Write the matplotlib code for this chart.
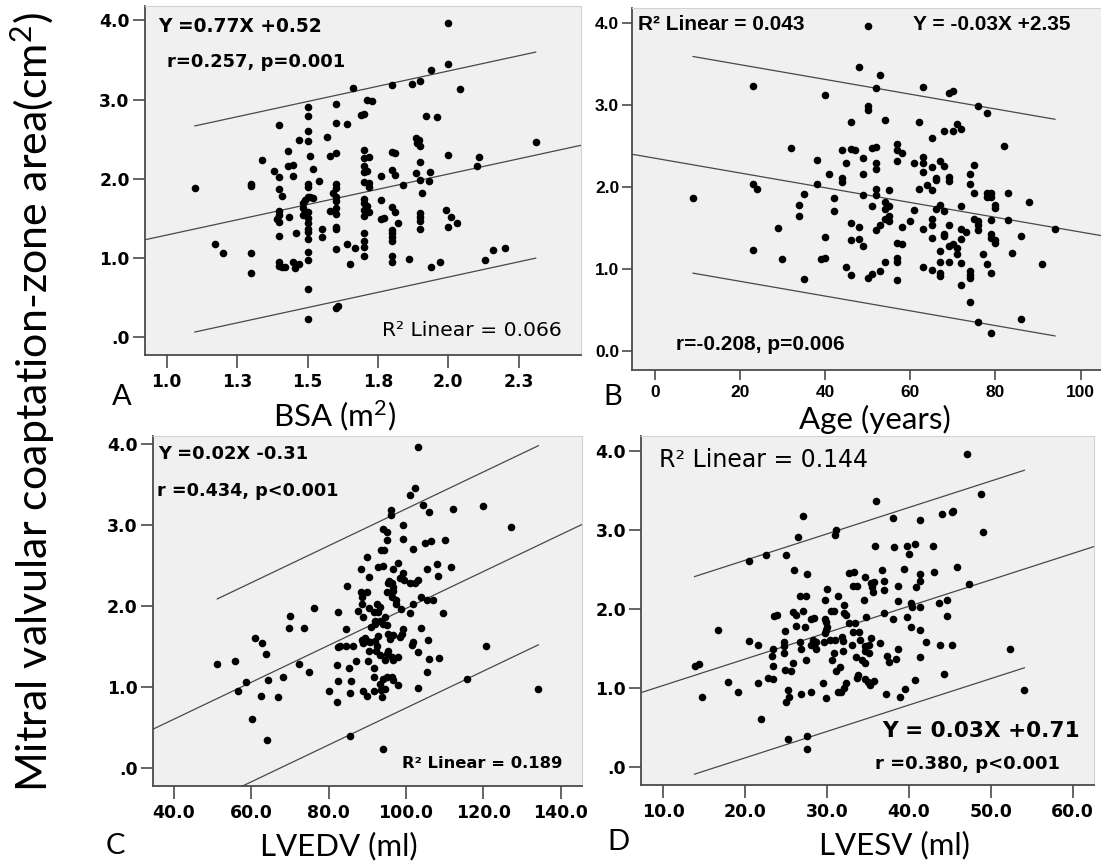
import matplotlib
matplotlib.use("Agg")
import matplotlib.pyplot as plt
import numpy as np

plt.rcParams["mathtext.fontset"] = "custom"
plt.rcParams["mathtext.rm"] = "Lato"
plt.rcParams["mathtext.it"] = "Lato:italic"
plt.rcParams["mathtext.bf"] = "Lato:bold"

# ---------------- data ----------------
# Panel A: body surface area vs coaptation-zone area
bsa = [2.00, 2.00, 1.94, 1.90, 1.87, 1.80, 1.66, 2.04, 1.71, 1.73,
       1.50, 1.60, 1.50, 1.69, 1.70, 1.92, 1.96, 1.60, 1.64, 1.40,
       1.50, 1.57, 1.47, 1.50, 1.885, 1.895, 1.89, 1.90, 2.31, 1.43,
       1.70, 1.80, 1.81, 1.51, 1.58, 1.60, 1.70, 1.72, 1.90, 2.00,
       2.11, 2.10, 1.34, 1.43, 1.45, 1.70, 1.38, 1.52, 1.70, 1.71,
       1.80, 1.81, 1.76, 1.45, 1.40, 1.885, 1.90, 1.935, 1.93, 1.54,
       1.30, 1.30, 1.10, 1.50, 1.50, 1.70, 1.72, 1.72, 1.60, 1.60,
       1.84, 1.40, 1.41, 1.59, 1.60, 1.905, 1.50, 1.51, 1.52, 1.49,
       1.485, 1.60, 1.70, 1.70, 1.71, 1.76, 1.80, 1.81, 1.99, 2.01,
       2.03, 2.00, 1.90, 1.90, 1.90, 1.90, 1.40, 1.40, 1.39, 1.40,
       1.435, 1.485, 1.50, 1.485, 1.50, 1.50, 1.50, 1.50, 1.50, 1.60,
       1.58, 1.60, 1.60, 1.60, 1.60, 1.70, 1.72, 1.70, 1.77, 1.76,
       1.55, 1.55, 1.46, 1.40, 1.70, 1.70, 1.70, 1.70, 1.80, 1.80,
       1.80, 1.80, 1.82, 1.17, 1.20, 1.30, 1.30, 1.64, 1.67, 1.50,
       1.50, 1.40, 1.41, 1.42, 1.40, 1.45, 1.455, 1.47, 1.65, 1.80,
       1.80, 1.86, 1.94, 1.97, 2.13, 2.16, 2.20, 1.50, 1.60, 1.61,
       1.50]
area_bsa = [3.96, 3.45, 3.37, 3.23, 3.20, 3.18, 3.15, 3.13, 3.00, 2.98,
            2.91, 2.94, 2.79, 2.80, 2.82, 2.79, 2.78, 2.70, 2.69, 2.68,
            2.60, 2.53, 2.49, 2.48, 2.51, 2.49, 2.45, 2.42, 2.47, 2.35,
            2.36, 2.34, 2.32, 2.29, 2.29, 2.32, 2.26, 2.27, 2.21, 2.30,
            2.28, 2.16, 2.24, 2.16, 2.17, 2.16, 2.10, 2.12, 2.09, 2.10,
            2.11, 2.05, 2.03, 2.03, 2.02, 2.07, 1.98, 2.08, 1.97, 1.97,
            1.93, 1.91, 1.88, 1.93, 1.90, 1.96, 1.95, 1.90, 1.93, 1.89,
            1.92, 1.87, 1.78, 1.82, 1.77, 1.82, 1.77, 1.77, 1.76, 1.73,
            1.69, 1.72, 1.74, 1.70, 1.66, 1.73, 1.65, 1.58, 1.61, 1.52,
            1.44, 1.39, 1.57, 1.52, 1.47, 1.37, 1.59, 1.54, 1.49, 1.46,
            1.52, 1.63, 1.58, 1.54, 1.50, 1.44, 1.37, 1.33, 1.24, 1.63,
            1.60, 1.56, 1.39, 1.37, 1.11, 1.61, 1.58, 1.53, 1.51, 1.49,
            1.37, 1.27, 1.32, 1.28, 1.31, 1.22, 1.14, 1.03, 1.36, 1.31,
            1.27, 1.21, 1.44, 1.18, 1.07, 1.06, 0.81, 1.18, 1.13, 1.08,
            0.97, 0.95, 0.89, 0.89, 0.90, 0.95, 0.88, 0.93, 0.92, 1.03,
            0.95, 0.99, 0.89, 0.95, 0.98, 1.10, 1.13, 0.61, 0.37, 0.39,
            0.23]

# Panel B: age vs coaptation-zone area
age = [50, 23, 48, 53, 52, 63, 69, 70, 40, 50,
       50, 76, 78, 46, 54, 62, 71, 68, 70, 72,
       65, 32, 44, 46, 47, 51, 52, 57, 57, 58,
       82, 38, 49, 45, 52, 52, 57, 61, 63, 63,
       63, 65, 67, 68, 75, 41, 44, 44, 49, 66,
       66, 69, 69, 74, 74, 23, 24, 38, 64, 65,
       62, 52, 52, 55, 35, 49, 75, 78, 79, 78,
       79, 83, 88, 9, 42, 34, 34, 54, 54, 55,
       51, 61, 67, 66, 68, 72, 80, 80, 42, 54,
       55, 55, 65, 65, 60, 75, 76, 76, 76, 79,
       83, 46, 53, 52, 58, 48, 69, 63, 72, 73,
       29, 94, 68, 68, 79, 79, 80, 80, 86, 40,
       65, 46, 48, 57, 58, 69, 70, 71, 72, 49,
       67, 23, 84, 71, 77, 30, 39, 40, 57, 57,
       54, 67, 69, 72, 78, 91, 45, 63, 65, 67,
       67, 74, 74, 74, 79, 46, 51, 50, 53, 35,
       57, 72, 74, 76, 86, 79]
area_age = [3.96, 3.23, 3.46, 3.36, 3.20, 3.22, 3.15, 3.17, 3.12, 2.98,
            2.94, 2.99, 2.90, 2.79, 2.81, 2.79, 2.77, 2.68, 2.68, 2.70,
            2.60, 2.47, 2.45, 2.46, 2.45, 2.48, 2.49, 2.52, 2.45, 2.41,
            2.50, 2.33, 2.35, 2.29, 2.29, 2.22, 2.32, 2.29, 2.37, 2.29,
            2.18, 2.24, 2.32, 2.26, 2.27, 2.16, 2.11, 2.06, 2.16, 2.11,
            2.08, 2.12, 2.07, 2.16, 2.04, 2.03, 1.97, 2.03, 2.02, 1.96,
            1.97, 1.98, 1.90, 1.96, 1.91, 1.90, 1.92, 1.92, 1.93, 1.88,
            1.88, 1.92, 1.81, 1.87, 1.87, 1.78, 1.64, 1.82, 1.73, 1.77,
            1.77, 1.72, 1.78, 1.73, 1.71, 1.77, 1.78, 1.74, 1.71, 1.61,
            1.64, 1.58, 1.61, 1.53, 1.58, 1.61, 1.58, 1.53, 1.48, 1.60,
            1.60, 1.56, 1.53, 1.47, 1.51, 1.51, 1.53, 1.49, 1.49, 1.45,
            1.50, 1.49, 1.43, 1.40, 1.43, 1.38, 1.35, 1.32, 1.40, 1.39,
            1.38, 1.35, 1.36, 1.32, 1.31, 1.28, 1.31, 1.26, 1.36, 1.28,
            1.22, 1.23, 1.20, 1.18, 1.18, 1.12, 1.12, 1.13, 1.13, 1.09,
            1.09, 1.08, 1.08, 1.07, 1.06, 1.06, 1.03, 1.02, 0.99, 0.95,
            0.91, 0.97, 0.93, 0.89, 0.95, 0.93, 0.94, 0.89, 0.97, 0.88,
            0.86, 0.80, 0.60, 0.35, 0.39, 0.22]

# Panel C: LV end-diastolic volume vs coaptation-zone area
lvedv = [103.0, 102.3, 100.9, 104.5, 112.2, 119.8, 96.0, 96.0, 106.0, 127.2,
         99.1, 94.0, 95.0, 95.2, 99.1, 104.9, 106.5, 110.1, 101.9, 93.5,
         94.3, 89.8, 98.0, 92.8, 94.1, 88.4, 96.7, 108.1, 111.6, 105.3,
         99.1, 90.3, 108.2, 95.7, 96.5, 95.4, 96.7, 98.4, 99.5, 101.0,
         102.3, 103.2, 84.8, 95.2, 96.7, 96.3, 88.4, 89.8, 88.5, 88.7,
         103.8, 105.3, 107.1, 97.4, 97.4, 101.9, 90.3, 92.4, 93.3, 92.7,
         98.7, 101.0, 109.5, 76.2, 70.0, 82.3, 87.7, 89.0, 91.6, 92.0,
         94.6, 93.3, 94.1, 95.0, 90.9, 92.1, 69.8, 73.7, 84.4, 99.1,
         103.8, 92.8, 95.4, 96.7, 95.9, 98.4, 98.9, 60.9, 62.8, 63.7,
         55.7, 51.2, 72.3, 75.0, 58.5, 56.6, 64.2, 68.3, 62.5, 67.0,
         60.1, 64.1, 82.5, 82.9, 84.4, 86.4, 88.5, 89.0, 89.4, 89.8,
         90.7, 90.3, 92.0, 92.4, 82.2, 85.3, 87.0, 90.1, 92.2, 93.3,
         95.0, 94.6, 95.4, 96.3, 96.7, 97.8, 101.9, 101.5, 103.2, 105.8,
         108.4, 106.0, 91.6, 91.6, 93.4, 94.1, 95.2, 93.5, 94.6, 96.5,
         96.7, 97.8, 105.3, 82.3, 85.7, 80.0, 85.6, 82.2, 89.0, 89.8,
         91.7, 93.7, 103.2, 115.7, 120.6, 134.2, 85.5, 94.1]
area_lvedv = [3.97, 3.46, 3.37, 3.25, 3.20, 3.23, 3.18, 3.13, 3.16, 2.98,
              3.00, 2.95, 2.92, 2.81, 2.83, 2.78, 2.80, 2.81, 2.71, 2.69,
              2.69, 2.61, 2.53, 2.48, 2.50, 2.46, 2.46, 2.52, 2.48, 2.46,
              2.41, 2.36, 2.37, 2.31, 2.28, 2.28, 2.24, 2.34, 2.32, 2.29,
              2.28, 2.32, 2.25, 2.17, 2.18, 2.11, 2.17, 2.17, 2.11, 2.03,
              2.11, 2.08, 2.08, 2.07, 2.02, 2.03, 1.97, 2.03, 1.99, 1.93,
              1.96, 1.91, 1.91, 1.97, 1.88, 1.92, 1.94, 1.87, 1.92, 1.82,
              1.87, 1.82, 1.78, 1.77, 1.74, 1.78, 1.73, 1.73, 1.71, 1.71,
              1.73, 1.63, 1.66, 1.64, 1.59, 1.62, 1.66, 1.60, 1.54, 1.41,
              1.32, 1.28, 1.28, 1.18, 1.06, 0.95, 1.08, 1.12, 0.89, 0.87,
              0.61, 0.35, 1.49, 1.50, 1.51, 1.51, 1.58, 1.54, 1.60, 1.57,
              1.56, 1.45, 1.57, 1.50, 1.27, 1.23, 1.32, 1.32, 1.45, 1.39,
              1.41, 1.33, 1.45, 1.37, 1.33, 1.37, 1.56, 1.52, 1.43, 1.58,
              1.36, 1.35, 1.23, 1.12, 1.04, 1.10, 1.12, 0.96, 0.98, 1.12,
              1.09, 1.03, 1.19, 1.07, 1.07, 0.95, 0.92, 0.81, 0.95, 0.89,
              0.95, 0.88, 0.99, 1.10, 1.50, 0.98, 0.39, 0.23]

# Panel D: LV end-systolic volume vs coaptation-zone area
lvesv = [47.1, 48.8, 36.0, 44.0, 45.2, 45.4, 27.1, 38.1, 41.3, 31.1,
         30.9, 49.1, 26.4, 20.4, 22.5, 25.0, 35.9, 38.2, 39.7, 40.7,
         42.9, 40.0, 26.0, 27.5, 32.7, 33.3, 36.7, 39.4, 45.9, 41.3,
         41.3, 43.0, 34.6, 35.4, 35.7, 35.5, 35.6, 37.0, 33.2, 33.6,
         38.6, 40.9, 47.3, 37.0, 30.0, 26.7, 27.4, 31.3, 29.7, 34.5,
         38.6, 40.3, 40.4, 41.3, 43.7, 44.7, 30.5, 30.8, 32.0, 32.0,
         32.3, 25.8, 26.2, 27.1, 23.5, 23.9, 28.0, 28.4, 29.7, 34.8,
         37.0, 38.1, 39.8, 44.6, 40.3, 41.3, 16.7, 24.9, 26.2, 27.3,
         29.8, 30.0, 29.9, 29.7, 32.7, 33.4, 33.1, 33.9, 35.3, 20.4,
         21.5, 24.7, 24.7, 26.7, 28.3, 28.7, 28.0, 29.6, 30.4, 30.9,
         31.8, 31.9, 34.0, 33.0, 34.6, 35.1, 36.5, 42.1, 45.2, 43.8,
         52.3, 23.4, 24.7, 26.8, 28.7, 30.8, 31.9, 34.6, 35.1, 38.6,
         37.3, 37.6, 38.4, 33.5, 41.4, 30.6, 27.4, 23.3, 34.3, 34.6,
         13.8, 14.4, 23.4, 24.9, 25.6, 25.8, 31.6, 31.1, 33.8, 33.6,
         34.6, 35.0, 35.7, 35.2, 44.3, 22.8, 23.4, 21.5, 17.9, 19.1,
         14.7, 29.5, 32.3, 32.0, 40.7, 25.2, 25.4, 25.0, 26.8, 28.0,
         29.8, 31.3, 31.7, 37.2, 38.9, 39.5, 54.1, 21.9, 25.2, 27.6,
         27.5]
area_lvesv = [3.96, 3.45, 3.37, 3.20, 3.23, 3.24, 3.18, 3.15, 3.13, 3.00,
              2.94, 2.98, 2.91, 2.61, 2.69, 2.68, 2.80, 2.78, 2.80, 2.82,
              2.80, 2.70, 2.49, 2.45, 2.46, 2.47, 2.50, 2.51, 2.53, 2.45,
              2.35, 2.47, 2.41, 2.33, 2.34, 2.28, 2.21, 2.36, 2.29, 2.29,
              2.29, 2.28, 2.32, 2.24, 2.26, 2.16, 2.16, 2.16, 2.12, 2.12,
              2.10, 2.08, 2.03, 2.03, 2.08, 2.11, 1.97, 1.98, 2.05, 1.95,
              1.92, 1.96, 1.93, 1.98, 1.91, 1.93, 1.88, 1.89, 1.87, 1.90,
              1.95, 1.87, 1.90, 1.91, 1.77, 1.73, 1.73, 1.72, 1.78, 1.77,
              1.84, 1.77, 1.73, 1.70, 1.82, 1.82, 1.71, 1.71, 1.63, 1.60,
              1.54, 1.58, 1.53, 1.58, 1.61, 1.58, 1.54, 1.58, 1.61, 1.61,
              1.65, 1.60, 1.61, 1.54, 1.53, 1.54, 1.57, 1.58, 1.54, 1.54,
              1.50, 1.50, 1.45, 1.49, 1.49, 1.45, 1.47, 1.47, 1.44, 1.49,
              1.41, 1.33, 1.37, 1.39, 1.39, 1.36, 1.36, 1.41, 1.36, 1.32,
              1.28, 1.31, 1.28, 1.23, 1.22, 1.32, 1.27, 1.21, 1.16, 1.13,
              1.12, 1.08, 1.09, 1.04, 1.18, 1.13, 1.12, 1.06, 1.08, 0.95,
              0.89, 1.07, 1.06, 1.00, 1.10, 0.97, 0.89, 0.82, 0.92, 0.95,
              0.88, 0.95, 0.95, 0.93, 0.89, 0.99, 0.97, 0.61, 0.35, 0.39,
              0.23]

# Regression lines: intercept, slope and half-width of the 95% individual band
fit_intercept = [0.52, 2.35, -0.31, 0.70]
fit_slope = [0.77, -0.009, 0.0228, 0.0334]
band_halfwidth = [1.30, 1.32, 1.23, 1.25]

# Tick values and labels
a_xticks = [1.0, 1.25, 1.5, 1.75, 2.0, 2.25]
a_xlabels = ["1.0", "1.3", "1.5", "1.8", "2.0", "2.3"]
b_xticks = [0, 20, 40, 60, 80, 100]
b_xlabels = ["0", "20", "40", "60", "80", "100"]
c_xticks = [40, 60, 80, 100, 120, 140]
c_xlabels = ["40.0", "60.0", "80.0", "100.0", "120.0", "140.0"]
d_xticks = [10, 20, 30, 40, 50, 60]
d_xlabels = ["10.0", "20.0", "30.0", "40.0", "50.0", "60.0"]
yticks = [0, 1, 2, 3, 4]
ylabels_short = [".0", "1.0", "2.0", "3.0", "4.0"]
ylabels_full = ["0.0", "1.0", "2.0", "3.0", "4.0"]

# ---------------- figure ----------------
W, H, DPI = 1101, 868, 100
fig = plt.figure(figsize=(W / DPI, H / DPI), dpi=DPI)
fig.patch.set_facecolor("white")

LAB = ["Lato", "DejaVu Sans"]
DJ = ["DejaVu Sans"]
LIB = ["Liberation Sans", "DejaVu Sans"]


def rect(l, t, r, b):
    return [l / W, 1 - b / H, (r - l) / W, (b - t) / H]


def ftext(x, y, s, **kw):
    kw.setdefault("va", "center")
    return fig.text(x / W, 1 - y / H, s, **kw)


panels = [
    dict(box=(145, 6, 581, 355), x=bsa, y=area_bsa, xlim=(0.923, 2.471),
         ylim=(-0.223, 4.18), xt=a_xticks, xl=a_xlabels, yl=ylabels_short,
         tick_font=DJ, tick_size=12.3, tick_len=9),
    dict(box=(631.7, 8, 1101, 369.5), x=age, y=area_age, xlim=(-5.4, 104.8),
         ylim=(-0.225, 4.18), xt=b_xticks, xl=b_xlabels, yl=ylabels_full,
         tick_font=LIB, tick_size=12.5, tick_len=7),
    dict(box=(152.7, 436, 582, 785.7), x=lvedv, y=area_lvedv, xlim=(34.5, 145.5),
         ylim=(-0.22, 4.10), xt=c_xticks, xl=c_xlabels, yl=ylabels_short,
         tick_font=DJ, tick_size=12.5, tick_len=9),
    dict(box=(641.4, 436, 1094, 784.5), x=lvesv, y=area_lvesv, xlim=(7.31, 62.6),
         ylim=(-0.22, 4.19), xt=d_xticks, xl=d_xlabels, yl=ylabels_short,
         tick_font=DJ, tick_size=12.5, tick_len=9),
]

for i, p in enumerate(panels):
    ax = fig.add_axes(rect(*p["box"]))
    ax.set_facecolor("#f0f0f0")
    ax.set_xlim(*p["xlim"])
    ax.set_ylim(*p["ylim"])
    for side in ("left", "bottom"):
        ax.spines[side].set_color("#4a4a4a")
        ax.spines[side].set_linewidth(1.3)
    for side in ("top", "right"):
        ax.spines[side].set_color("#d2d2d2")
        ax.spines[side].set_linewidth(0.8)
    ax.set_xticks(p["xt"])
    ax.set_xticklabels(p["xl"])
    ax.set_yticks(yticks)
    ax.set_yticklabels(p["yl"])
    ax.tick_params(direction="out", length=p["tick_len"], width=1.2,
                   color="#4a4a4a", pad=2)
    ax.tick_params(axis="x", pad=4)
    for lab in ax.get_xticklabels() + ax.get_yticklabels():
        lab.set_family(p["tick_font"])
        lab.set_fontweight("bold")
        lab.set_fontsize(p["tick_size"])
        lab.set_color("black")

    xs = np.array(p["x"], dtype=float)
    ys = np.array(p["y"], dtype=float)
    b0, b1, hw = fit_intercept[i], fit_slope[i], band_halfwidth[i]

    # fitted mean line across the full axis
    xl = np.array(p["xlim"])
    ax.plot(xl, b0 + b1 * xl, color="#484848", lw=0.9, zorder=2)
    # individual prediction band over the observed range
    xr = np.array([xs.min(), xs.max()])
    ax.plot(xr, b0 + b1 * xr + hw, color="#484848", lw=0.9, zorder=2)
    ax.plot(xr, b0 + b1 * xr - hw, color="#484848", lw=0.9, zorder=2)

    ax.scatter(xs, ys, s=30, color="black", linewidths=0, zorder=3)

# ---------------- annotations ----------------
ftext(158, 26, "Y =0.77X +0.52", family=DJ, weight="bold", size=13.4)
ftext(167, 62, "r=0.257, p=0.001", family=DJ, weight="bold", size=12.9)
ftext(382, 331, "R\u00b2 Linear = 0.066", family=DJ, size=14.6)

ftext(638, 25, "R\u00b2 Linear = 0.043", family=LIB, weight="bold", size=15)
ftext(913, 25, "Y = -0.03X +2.35", family=LIB, weight="bold", size=15)
ftext(676, 345, "r=-0.208, p=0.006", family=LIB, weight="bold", size=15)

ftext(158, 454, "Y =0.02X -0.31", family=DJ, weight="bold", size=12.9)
ftext(157, 491, "r =0.434, p<0.001", family=DJ, weight="bold", size=12.7)
ftext(402, 763, "R\u00b2 Linear = 0.189", family=DJ, weight="bold", size=11.8)

ftext(659, 460, "R\u00b2 Linear = 0.144", family=DJ, size=17)
ftext(882, 731, "Y = 0.03X +0.71", family=DJ, weight="bold", size=15.6)
ftext(875, 764, "r =0.380, p<0.001", family=DJ, weight="bold", size=13)

# panel letters and axis titles
for x, y, s in [(122, 397, "A"), (613, 397, "B"), (115, 846, "C"), (618, 842, "D")]:
    ftext(x, y, s, family=LAB, size=21, ha="center")

ftext(335, 416, r"BSA (m$^{\mathrm{2}}$)", family=LAB, size=22.5, ha="center")
ftext(875, 419, "Age (years)", family=LAB, size=22.5, ha="center")
ftext(339, 846, "LVEDV (ml)", family=LAB, size=22.5, ha="center")
ftext(894, 845, "LVESV (ml)", family=LAB, size=22.5, ha="center")

ftext(33, 402, r"Mitral valvular coaptation-zone area(cm$^{\mathrm{2}}$)",
      family=LAB, size=31, ha="center", rotation=90)

fig.savefig("out.png", dpi=DPI, facecolor="white")
